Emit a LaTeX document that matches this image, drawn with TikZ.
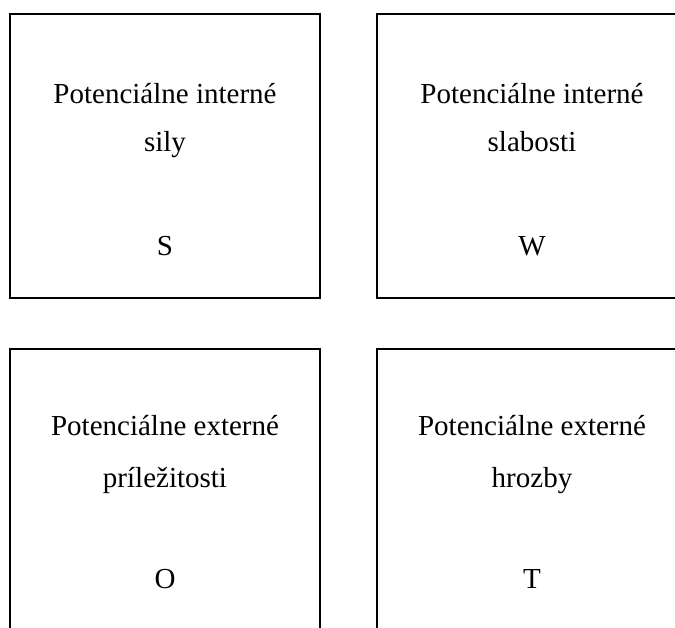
\documentclass[tikz,border=0pt]{standalone}
\usepackage{fontspec}
\setmainfont{Liberation Serif}
\begin{document}
\begin{tikzpicture}[x=1pt,y=-1pt,
  box/.style={draw=black,line width=1.6pt,rectangle,inner sep=0pt,minimum width=310pt,minimum height=284pt},
  lbl/.style={anchor=base,inner sep=0pt,font=\fontsize{29}{34}\selectfont}]
\path[use as bounding box] (0,0) rectangle (675,627);
\clip (0,0) rectangle (675,627);
% boxes
\node[box] (bS) at (165,156) {};
\node[box] (bW) at (532,156) {};
\node[box] (bO) at (165,491) {};
\node[box] (bT) at (532,491) {};
% texts
\node[lbl] (tS1) at (165,103) {Potenciálne interné};
\node[lbl] (tS2) at (165,151) {sily};
\node[lbl] (tS3) at (165,255) {S};
\node[lbl] (tW1) at (532,103) {Potenciálne interné};
\node[lbl] (tW2) at (532,151) {slabosti};
\node[lbl] (tW3) at (532,255) {W};
\node[lbl] (tO1) at (165,435) {Potenciálne externé};
\node[lbl] (tO2) at (165,487) {príležitosti};
\node[lbl] (tO3) at (165,588) {O};
\node[lbl] (tT1) at (532,435) {Potenciálne externé};
\node[lbl] (tT2) at (532,487) {hrozby};
\node[lbl] (tT3) at (532,588) {T};
\end{tikzpicture}
\end{document}
